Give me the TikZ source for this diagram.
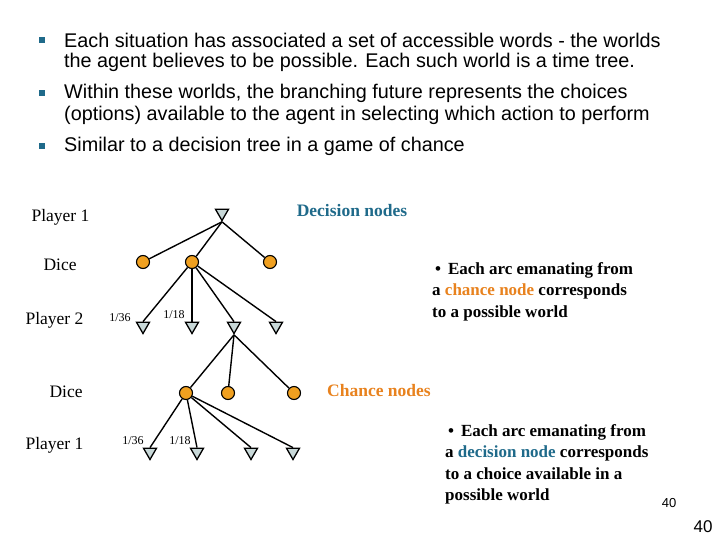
\documentclass[tikz,border=0pt]{standalone}
\usepackage{fontspec}
\setmainfont{Liberation Serif}
\newfontfamily\arialf{Liberation Sans}
\usetikzlibrary{shapes.geometric}
\definecolor{blu}{HTML}{1F6A8A}
\definecolor{org}{HTML}{E8821E}
\definecolor{tri}{HTML}{C8D8D8}
\definecolor{circ}{HTML}{F0A020}
\tikzset{
 dec/.style={isosceles triangle,isosceles triangle apex angle=60,shape border rotate=-90,draw=black,line width=1.3pt,fill=tri,minimum width=13pt,minimum height=10pt,inner sep=0pt},
 chn/.style={circle,draw=black,line width=1.1pt,fill=circ,minimum size=13pt,inner sep=0pt},
 edge/.style={line width=1.4pt},
 lab/.style={font=\fontsize{17.5}{20}\selectfont,anchor=west},
 prob/.style={font=\fontsize{12}{14}\selectfont},
 bul/.style={anchor=west,font=\arialf\fontsize{19.8}{22}\selectfont,inner sep=0pt},
 note/.style={anchor=north west,align=left,font=\bfseries\fontsize{17}{21.5}\selectfont,inner sep=0pt}
}
\begin{document}
\begin{tikzpicture}[x=1pt,y=-1pt]
\useasboundingbox (0,0) rectangle (720,540);
% bullets
\foreach \yy/\n in {40/a,93/b,146/c}{\node[fill=blu,minimum size=6pt,inner sep=0pt] (sq\n) at (42,\yy) {};}
\node[bul] (t1) at (64,40) {Each situation has associated a set of accessible words - the worlds};
\node[bul] (t2) at (64,62) {the agent believes to be possible. Each such world is a time tree.};
\node[bul] (t3) at (64,93) {Within these worlds, the branching future represents the choices};
\node[bul] (t4) at (64,115) {(options) available to the agent in selecting which action to perform};
\node[bul] (t5) at (64,146) {Similar to a decision tree in a game of chance};
% labels
\node[lab] (l1) at (28,217) {Player 1};
\node[lab] (l2) at (40,265) {Dice};
\node[lab] (l3) at (22,320) {Player 2};
\node[lab] (l4) at (46,392) {Dice};
\node[lab] (l5) at (22,445) {Player 1};
% tree
\node[dec] (r) at (222,213) {};
\node[chn] (c1) at (143,262) {};
\node[chn] (c2) at (192,262) {};
\node[chn] (c3) at (270,262) {};
\node[dec] (p1) at (143,326) {};
\node[dec] (p2) at (192,326) {};
\node[dec] (p3) at (234,326) {};
\node[dec] (p4) at (276,326) {};
\node[chn] (d1) at (186,393) {};
\node[chn] (d2) at (228,393) {};
\node[chn] (d3) at (294,393) {};
\node[dec] (q1) at (150,452) {};
\node[dec] (q2) at (197,452) {};
\node[dec] (q3) at (251,452) {};
\node[dec] (q4) at (293,452) {};
\foreach \c in {c1,c2,c3}{\draw[edge] (r.south) -- (\c);}
\foreach \p in {p1,p2,p3,p4}{\draw[edge] (c2) -- (\p.north);}
\foreach \c in {d1,d2,d3}{\draw[edge] (p3.south) -- (\c);}
\foreach \p in {q1,q2,q3,q4}{\draw[edge] (d1) -- (\p.north);}
\node[prob] (f1) at (120,318) {1/36};
\node[prob] (f2) at (174,315) {1/18};
\node[prob] (f3) at (133,441) {1/36};
\node[prob] (f4) at (180,441) {1/18};
% captions
\node[font=\bfseries\fontsize{17.5}{18}\selectfont,text=blu] (dn) at (352,211) {Decision nodes};
\node[font=\bfseries\fontsize{17.5}{18}\selectfont,text=org] (cn) at (379,391) {Chance nodes};
\node[note] (n1) at (432,262) {\,•\, Each arc emanating from\\a \textcolor{org}{chance node} corresponds\\to a possible world};
\node[note] (n2) at (445,424) {\,•\, Each arc emanating from\\a \textcolor{blu}{decision node} corresponds\\to a choice available in a\\possible world};
\node[font=\arialf\fontsize{13}{15}\selectfont] (pg1) at (669,503) {40};
\node[font=\arialf\fontsize{17}{19}\selectfont] (pg2) at (703,527) {40};
\end{tikzpicture}
\end{document}
